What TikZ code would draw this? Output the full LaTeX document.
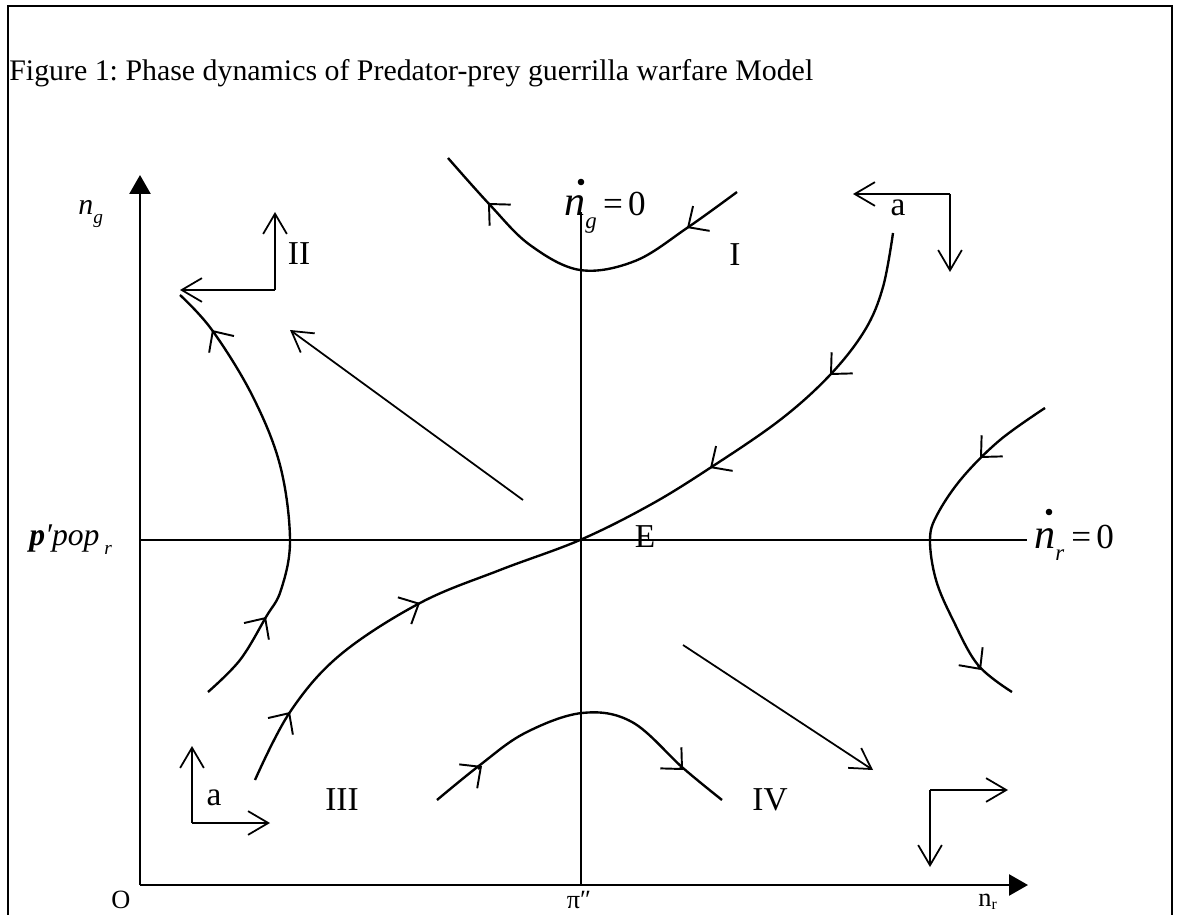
\documentclass[tikz,border=0pt]{standalone}
\usepackage{fontspec}
\setmainfont{Liberation Serif}
\usetikzlibrary{arrows.meta}
\frenchspacing
\tikzset{
  flowline/.style={line width=1.35pt},
  barb/.style={line width=1.1pt,-{Straight Barb[length=9pt,width=17pt]}},
  openarr/.style={line width=1pt,-{Straight Barb[length=11.5pt,width=13.5pt]}},
  axisline/.style={line width=1.5pt,-{Triangle[length=0.38cm,width=0.42cm]}},
  nullline/.style={line width=1pt},
  lbl/.style={font=\fontsize{19}{22}\selectfont, inner sep=0pt},
  txt/.style={inner sep=0pt},
}
\begin{document}
\begin{tikzpicture}[x=0.02cm,y=-0.02cm]
\useasboundingbox (0,0) rectangle (1177,915);
\clip (0,0) rectangle (1177,915);
% frame
\draw[line width=1pt] (8,6) rectangle (1172,960);
% title
\node[txt,anchor=base west] (title) at (9,81) {\fontsize{17}{20}\selectfont Figure 1: Phase dynamics of Predator-prey guerrilla warfare Model};
% axes
\coordinate (O) at (140,885);
\coordinate (ytop) at (140,175);
\coordinate (xright) at (1028,885);
\draw[axisline] (O) -- (ytop);
\draw[axisline] (O) -- (xright);
% nullclines
\coordinate (hl) at (140,540);
\coordinate (hr) at (1027,540);
\coordinate (vt) at (581,212);
\coordinate (vb) at (581,885);
\draw[nullline] (hl) -- (hr);
\draw[nullline] (vt) -- (vb);
% axis labels
\node[txt,anchor=base west] (ng) at (78,215) {\fontsize{17}{20}\selectfont\itshape n\raisebox{-0.28em}{\fontsize{11}{12}\selectfont g}};
\node[txt,anchor=base west] (ppop) at (29,545) {\fontsize{18}{20}\selectfont\bfseries\itshape p\mdseries ′pop\raisebox{-0.3em}{\fontsize{11}{12}\selectfont\ r}};
\node[txt,anchor=base] (lO) at (121,908) {\fontsize{15}{17}\selectfont O};
\node[txt,anchor=base] (lpi) at (579,908) {\fontsize{15}{17}\selectfont π″};
\node[txt,anchor=base west] (lnr) at (978,906) {\fontsize{15}{17}\selectfont n\raisebox{-0.12em}{\fontsize{9}{10}\selectfont r}};
% nullcline labels
\node[txt,anchor=base west] (ngnull) at (564,216) {\fontsize{24}{26}\selectfont\itshape n\raisebox{-0.3em}{\fontsize{13}{14}\selectfont g}\upshape\fontsize{20}{22}\selectfont\kern3.5pt=\kern3pt0};
\fill (581,182) circle (3.3);
\node[txt,anchor=base west] (nrnull) at (1034,548) {\fontsize{24}{26}\selectfont\itshape n\raisebox{-0.3em}{\fontsize{13}{14}\selectfont r}\upshape\fontsize{20}{22}\selectfont\kern4pt=\kern3pt0};
\fill (1049,512) circle (3.3);
% region labels
\node[lbl] (lI) at (735,255) {I};
\node[lbl] (lII) at (299,254) {II};
\node[lbl] (lIII) at (342,800) {III};
\node[lbl] (lIV) at (770,800) {IV};
\node[lbl] (lE) at (645,537) {E};
\node[lbl] (la1) at (898,208) {a};
\node[lbl] (la2) at (214,798) {a};
% corner arrows
\coordinate (c2) at (275,290);
\coordinate (c2u) at (275,212);
\coordinate (c2l) at (180,290);
\draw[openarr] (c2) -- (c2u);
\draw[openarr] (c2) -- (c2l);
\coordinate (c1) at (950,194);
\coordinate (c1l) at (853,194);
\coordinate (c1d) at (950,272);
\draw[openarr] (c1) -- (c1l);
\draw[openarr] (c1) -- (c1d);
\coordinate (c3) at (192,823);
\coordinate (c3u) at (192,746);
\coordinate (c3r) at (270,823);
\draw[openarr] (c3) -- (c3u);
\draw[openarr] (c3) -- (c3r);
\coordinate (c4) at (930,790);
\coordinate (c4r) at (1008,790);
\coordinate (c4d) at (930,867);
\draw[openarr] (c4) -- (c4r);
\draw[openarr] (c4) -- (c4d);
% straight diagonal arrows
\coordinate (d1s) at (523,500);
\coordinate (d1e) at (290,330);
\draw[openarr] (d1s) -- (d1e);
\coordinate (d2s) at (683,645);
\coordinate (d2e) at (873,770);
\draw[openarr] (d2s) -- (d2e);
% trajectories
\draw[flowline] plot[smooth,tension=0.6] coordinates {(448,158) (490,205) (530,245) (580,270) (635,261) (687,228) (737,192)};
\draw[flowline] plot[smooth,tension=0.6] coordinates {(255,780) (290,712) (340,655) (420,603) (500,570) (580,540) (650,505) (710,468) (780,420) (830,375) (865,330) (883,287) (893,233)};
\draw[flowline] plot[smooth,tension=0.6] coordinates {(180,295) (212,330) (252,395) (280,465) (290,540) (281,590) (266,617) (240,660) (208,692)};
\draw[flowline] plot[smooth,tension=0.6] coordinates {(1045,408) (1000,440) (962,478) (937,515) (930,540) (936,580) (953,620) (978,665) (1012,692)};
\draw[flowline] plot[smooth,tension=0.6] coordinates {(437,800) (480,765) (525,733) (582,713) (632,722) (683,768) (722,800)};
% arrow marks on trajectories
\coordinate (a1t) at (491,206); \coordinate (a1h) at (488,203);
\coordinate (a2t) at (690,226); \coordinate (a2h) at (687,228);
\coordinate (a3t) at (288,715); \coordinate (a3h) at (290,712);
\coordinate (a4t) at (416,605); \coordinate (a4h) at (420,603);
\coordinate (a5t) at (713,466); \coordinate (a5h) at (710,468);
\coordinate (a6t) at (833,372); \coordinate (a6h) at (830,375);
\coordinate (a7t) at (214,333); \coordinate (a7h) at (212,330);
\coordinate (a8t) at (264,620); \coordinate (a8h) at (266,617);
\coordinate (a9t) at (983,455); \coordinate (a9h) at (980,458);
\coordinate (a10t) at (978,666); \coordinate (a10h) at (981,670);
\coordinate (a11t) at (478,769); \coordinate (a11h) at (482,766);
\coordinate (a12t) at (680,767); \coordinate (a12h) at (683,770);
\foreach \k in {1,...,12} {\draw[barb] (a\k t) -- (a\k h);}
\end{tikzpicture}
\end{document}
